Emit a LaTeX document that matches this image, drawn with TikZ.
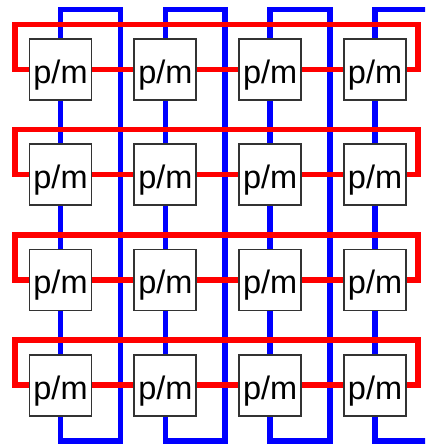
\documentclass[tikz,border=0pt]{standalone}
\usepackage{fontspec}
\setmainfont{Liberation Sans}
\begin{document}
\begin{tikzpicture}[x=1pt,y=-1pt,
  pmbox/.style={draw=black!80,line width=1.8pt,fill=white,inner sep=0pt,
    minimum width=62pt,text height=44.5pt,text depth=16.5pt,
    font=\fontsize{32.5}{32.5}\selectfont},
  redlink/.style={draw=red,line width=5.5pt},
  bluelink/.style={draw=blue,line width=5.5pt}]
\clip (0,0) rectangle (425,446);
% boxes positions
\foreach \i in {1,...,4}{
  \foreach \j in {1,...,4}{
    \pgfmathsetmacro{\cx}{60.5+104.85*(\i-1)}
    \pgfmathsetmacro{\cy}{69.5+105.2*(\j-1)}
    \coordinate (c-\i-\j) at (\cx,\cy);
  }
}
% blue column loops
\foreach \i in {1,...,4}{
  \pgfmathsetmacro{\cx}{60.5+104.85*(\i-1)}
  \pgfmathsetmacro{\wx}{\cx+59.8}
  \coordinate (bt-\i) at (\cx,9.5);
  \coordinate (bb-\i) at (\cx,441);
  \coordinate (wt-\i) at (\wx,9.5);
  \coordinate (wb-\i) at (\wx,441);
  \draw[bluelink] (c-\i-1) -- (bt-\i) -- (wt-\i) -- (wb-\i) -- (bb-\i) -- (c-\i-4);
  \draw[bluelink] (c-\i-1) -- (c-\i-4);
}
% red row loops
\foreach \j in {1,...,4}{
  \pgfmathsetmacro{\cy}{69.5+105.2*(\j-1)}
  \pgfmathsetmacro{\ty}{\cy-45}
  \coordinate (rl-\j) at (15,\cy);
  \coordinate (rr-\j) at (418,\cy);
  \coordinate (rtl-\j) at (15,\ty);
  \coordinate (rtr-\j) at (418,\ty);
  \draw[redlink] (c-1-\j) -- (rl-\j) -- (rtl-\j) -- (rtr-\j) -- (rr-\j) -- (c-4-\j);
  \draw[redlink] (c-1-\j) -- (c-4-\j);
}
% boxes
\foreach \i in {1,...,4}{
  \foreach \j in {1,...,4}{
    \node[pmbox] (b-\i-\j) at (c-\i-\j) {p/m};
  }
}
\end{tikzpicture}
\end{document}
